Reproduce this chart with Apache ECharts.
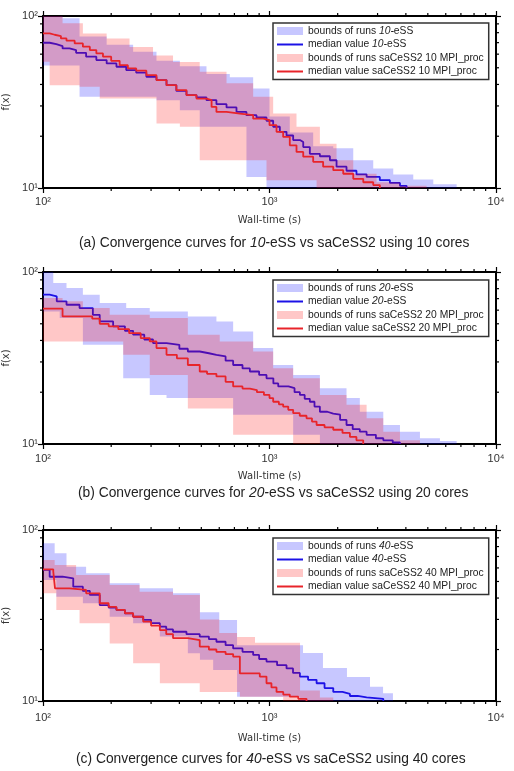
<!DOCTYPE html>
<html>
<head>
<meta charset="utf-8">
<title>Convergence curves</title>
<script src="https://cdn.jsdelivr.net/npm/echarts@6/dist/echarts.min.js"></script>
<style>
  html, body { margin: 0; padding: 0; background: #fff; }
  #chart { width: 514px; height: 771px; }
</style>
</head>
<body>
<div id="chart"></div>
<script type="text/javascript">
// axis ticks
var xMajorTicks = [100, 1000, 10000];
var xTickLabels = ['10²', '10³', '10⁴'];
var yMajorTicks = [10, 100];
var yTickLabels = ['10¹', '10²'];
var xMinorTicks = [200, 300, 400, 500, 600, 700, 800, 900, 2000, 3000, 4000, 5000, 6000, 7000, 8000, 9000];
var yMinorTicks = [20, 30, 40, 50, 60, 70, 80, 90];

var coreCounts = [10, 20, 40];
var panelLetters = ['a', 'b', 'c'];

// (a) 10 cores  -- [wall-time, f(x)], value holds until next point
var aBlueMedian = [[100,69.9],[107,68.7],[114.5,66.9],[122,64.8],[131,63.4],[140,61.1],[155,58.0],[172,55.4],[191,53.0],[211,50.7],[233,48.5],[258,46.8],[286,44.3],[317,42.4],[351,39.6],[388,36.7],[430,34.7],[476,33.6],[527,32.4],[583,30.7],[646,29.4],[715,27.7],[791,26.5],[876,25.7],[970,24.6],[1038,22.7],[1111,21.2],[1189,20.2],[1272,19.0],[1362,18.5],[1409,17.3],[1507,15.8],[1669,15.3],[1848,14.5],[1977,13.3],[2188,12.6],[2421,12.0],[2684,11.6],[3070,11.1],[3400,10.7],[3767,10.3],[4030,10]];
var aRedMedian = [[100,79.3],[107,77.8],[112.6,76.5],[120,74.1],[127,71.9],[138,69.3],[150,66.3],[161,63.4],[172,60.6],[184,58.0],[200,54.9],[218,51.8],[237,49.6],[258,48.1],[286,45.3],[317,42.4],[351,39.6],[388,37.1],[430,34.7],[476,33.1],[527,32.4],[555,29.6],[583,27.7],[646,27.1],[740,26.5],[847,25.3],[938,24.8],[1000,23.2],[1074,21.2],[1149,19.8],[1229,17.7],[1316,16.2],[1409,15.2],[1559,14.2],[1725,13.3],[1912,12.7],[2116,12.1],[2343,11.3],[2594,10.8],[2871,10.4],[3070,10]];
var aBlueUpper = [[100,100],[122,97],[145,76],[191,68],[250,62],[317,55],[402,51],[527,46],[668,44],[847,37.9],[1000,26],[1229,21],[1559,17.5],[1912,17],[2343,14.5],[2871,13],[3519,12],[4313,11.2],[5286,10.5],[6703,10]];
var aBlueLower = [[100,51.5],[145,33.9],[317,32.4],[402,28.3],[492,22.7],[791,11.6],[970,10]];
var aPinkUpper = [[100,100],[122,90.6],[150,79],[191,74],[241,66],[306,59],[375,54],[492,47.4],[646,40.6],[847,33.9],[1038,27.1],[1316,22.7],[1669,18.1],[1977,14.5],[2343,12.1],[2970,10.8],[3767,10.3],[4939,10]];
var aPinkLower = [[100,54.2],[107,39.6],[145,38.8],[178,33.1],[317,23.7],[402,22.7],[492,14.5],[970,11.1],[1614,10]];

// (b) 20 cores
var bBlueMedian = [[100,73.8],[107,72.1],[115,67.5],[127,64.5],[145,61.7],[166,56.4],[178,51.6],[204,48.3],[230,45.5],[250,43.2],[280,40.5],[306,38.6],[351,37.7],[400,35.8],[436,34.5],[492,33.7],[540,33.0],[583,32.3],[640,30.5],[691,28.8],[760,27.5],[819,26.4],[900,25.2],[970,24.1],[1040,22.5],[1093,21.6],[1213,21.1],[1290,20.0],[1362,19.3],[1430,18.3],[1507,17.6],[1580,16.5],[1669,15.4],[1800,15.0],[1912,14.8],[2050,13.8],[2188,12.9],[2330,12.2],[2505,11.8],[2684,11.3],[2950,10.8],[3180,10.5],[3500,10.2],[3767,10]];
var bRedMedian = [[100,61.2],[122,55.2],[165,53.5],[178,50.0],[195,48.3],[215,46.5],[240,44.1],[270,41.3],[296,39.5],[317,36.1],[351,33.0],[390,31.5],[436,28.8],[492,26.4],[530,25.6],[583,24.7],[640,23.0],[691,21.6],[760,21.0],[819,20.6],[880,20.0],[945,19.3],[1000,18.5],[1038,17.6],[1100,17.0],[1149,16.5],[1210,15.8],[1272,15.1],[1360,14.6],[1457,14.1],[1540,13.5],[1614,12.9],[1750,12.5],[1912,12.1],[2100,11.6],[2265,11.0],[2420,10.5],[2593,10]];
var bBlueUpper = [[100,100],[111,86.3],[127,80.7],[150,73.8],[178,66.0],[233,61.7],[296,59.0],[436,55.2],[583,51.6],[691,45.1],[847,36.1],[1038,28.8],[1272,25.2],[1669,21.1],[2188,18.5],[2505,15.4],[3180,12.9],[3767,11.8],[4616,10.8],[5656,10.4],[6703,10]];
var bBlueLower = [[100,59.0],[118.5,54.0],[150,37.7],[226,24.1],[296,19.3],[351,18.5],[691,14.8],[1272,11.3],[1669,10]];
var bPinkUpper = [[100,70.5],[122,67.5],[150,61.7],[197,56.4],[296,54.0],[436,43.2],[603,39.5],[847,34.5],[1038,27.6],[1272,24.1],[1669,19.3],[2188,16.9],[2684,14.1],[3180,11.8],[3767,10.5],[4616,10]];
var bPinkLower = [[100,39.5],[226,33.0],[296,25.2],[436,16.1],[691,11.3],[1272,10]];

// (c) 40 cores
var cBlueMedian = [[100,58.4],[107,53.3],[122,52.2],[136,46.6],[150,44.0],[161,41.7],[178,36.4],[195,35.2],[211,34.1],[230,32.5],[250,31.1],[277,29.8],[300,28.5],[328,27.2],[350,26.2],[375,25.4],[430,24.6],[492,23.8],[540,23.0],[583,22.2],[640,21.2],[691,20.3],[760,19.4],[847,18.6],[900,17.6],[970,17.0],[1080,16.2],[1189,15.5],[1270,14.6],[1362,13.9],[1480,13.3],[1614,12.7],[1750,11.9],[1912,11.3],[2100,11.0],[2265,10.7],[2450,10.5],[2684,10.3],[3180,10]];
var cRedMedian = [[100,58.9],[111,57.1],[113,45.6],[131,44.6],[155,42.6],[178,37.3],[195,35.5],[211,34.1],[230,32.6],[250,31.1],[277,29.1],[300,27.6],[328,26.0],[350,24.6],[375,23.3],[436,22.7],[492,20.8],[540,20.0],[583,19.4],[640,18.8],[691,18.2],[740,14.5],[906,13.9],[970,12.7],[1020,12.0],[1074,11.3],[1150,10.9],[1229,10.6],[1340,10.3],[1457,10]];
var cBlueUpper = [[100,83.6],[112.6,73.1],[127,61.0],[155,55.8],[197,48.8],[267,45.6],[375,42.6],[493,33],[600,29.8],[719,21.2],[1406,19.1],[1722,15.6],[2198,13.8],[2778,12.1],[3172,11.1],[3508,10]];
var cBlueLower = [[100,51.0],[114.5,40.7],[150,37.3],[197,31.1],[250,28.5],[328,23.8],[436,19.0],[493,17.4],[564,15.2],[719,10.6],[1364,10]];
var cPinkUpper = [[100,66.8],[112.6,62.4],[140,54.6],[197,47.7],[267,43.6],[375,41.7],[493,30],[600,25.0],[719,23.7],[863,21.9],[1364,11.5],[1669,10.5],[1912,10]];
var cPinkLower = [[100,42.6],[114.5,34.1],[145,28.5],[197,21.7],[250,16.6],[328,12.7],[492,11.3],[740,10.6],[1149,10]];

var panels = [
    {blueMed: aBlueMedian, redMed: aRedMedian, blueUp: aBlueUpper, blueLo: aBlueLower, pinkUp: aPinkUpper, pinkLo: aPinkLower},
    {blueMed: bBlueMedian, redMed: bRedMedian, blueUp: bBlueUpper, blueLo: bBlueLower, pinkUp: bPinkUpper, pinkLo: bPinkLower},
    {blueMed: cBlueMedian, redMed: cRedMedian, blueUp: cBlueUpper, blueLo: cBlueLower, pinkUp: cPinkUpper, pinkLo: cPinkLower}
];

// layout
var gridTops = [16, 272, 530];
var gridHeights = [172, 172, 171];
var legendTops = [23, 280, 538];
var captionTops = [236, 486, 752];
var captionLefts = [79, 78, 76];
var xNameGaps = [27, 27, 32];
var xLabelMargins = [8, 9, 11];

var bandBlue = 'rgba(0,0,255,0.22)';
var bandPink = 'rgba(255,0,0,0.22)';
var lineBlue = '#1c12e6';
var lineRed = '#e8242a';

function tickLabel(ticks, labels) {
    return function (v) {
        for (var i = 0; i < ticks.length; i++) {
            if (Math.abs(Math.log10(v) - Math.log10(ticks[i])) < 0.01) return labels[i];
        }
        return '';
    };
}

// step outline: value holds from x_i to x_(i+1)
function stepPath(arr, xEnd) {
    var out = [];
    for (var i = 0; i < arr.length; i++) {
        var x1 = i < arr.length - 1 ? arr[i + 1][0] : xEnd;
        out.push([arr[i][0], arr[i][1]]);
        out.push([x1, arr[i][1]]);
    }
    return out;
}

function bandSeries(name, upper, lower, color, g, z) {
    return {
        name: name, type: 'custom', xAxisIndex: 2 * g, yAxisIndex: 2 * g,
        clip: true, silent: true, z: z,
        itemStyle: {color: color},
        data: [[upper[0][0], upper[0][1]]],
        renderItem: function (params, api) {
            var xEnd = upper[upper.length - 1][0];
            var pts = stepPath(upper, xEnd).concat(stepPath(lower, xEnd).reverse());
            return {
                type: 'polygon',
                shape: {points: pts.map(function (p) { return api.coord(p); })},
                style: {fill: color}
            };
        }
    };
}

function medianSeries(name, data, color, g, z) {
    return {
        name: name, type: 'line', step: 'end', xAxisIndex: 2 * g, yAxisIndex: 2 * g,
        data: data, symbol: 'none', showSymbol: false, silent: true, z: z,
        clip: true, animation: false,
        lineStyle: {color: color, width: 1.8},
        itemStyle: {color: color}
    };
}

// minor ticks on all four sides, pointing outward
function minorTickSeries(g) {
    var data = xMinorTicks.map(function (v) { return [v, 10, 0]; })
        .concat(yMinorTicks.map(function (v) { return [100, v, 1]; }));
    return {
        type: 'custom', xAxisIndex: 2 * g, yAxisIndex: 2 * g, silent: true, z: 10,
        data: data,
        renderItem: function (params, api) {
            var v0 = api.value(0), v1 = api.value(1), kind = api.value(2);
            var st = {stroke: '#000', lineWidth: 1.2};
            var a, b;
            if (kind === 0) {
                a = api.coord([v0, 10]); b = api.coord([v0, 100]);
                return {type: 'group', children: [
                    {type: 'line', shape: {x1: a[0], y1: a[1], x2: a[0], y2: a[1] + 3}, style: st},
                    {type: 'line', shape: {x1: b[0], y1: b[1], x2: b[0], y2: b[1] - 3}, style: st}
                ]};
            }
            a = api.coord([100, v1]); b = api.coord([10000, v1]);
            return {type: 'group', children: [
                {type: 'line', shape: {x1: a[0], y1: a[1], x2: a[0] - 3, y2: a[1]}, style: st},
                {type: 'line', shape: {x1: b[0], y1: b[1], x2: b[0] + 3, y2: b[1]}, style: st}
            ]};
        }
    };
}

function italicNum(name) {
    return name.replace(/(\d+-)eSS/, '{i|$1}eSS');
}

var grids = [], xAxes = [], yAxes = [], legends = [], titles = [], series = [];
var axisLineStyle = {show: true, lineStyle: {color: '#000', width: 2}};
var majorTick = {show: true, inside: false, length: 5, lineStyle: {color: '#000', width: 1.2}};
var noSymbol = {color: 'rgba(0,0,0,0)', opacity: 0, borderWidth: 0};

panels.forEach(function (p, g) {
    var n = coreCounts[g];
    var names = [
        'bounds of runs ' + n + '-eSS',
        'median value ' + n + '-eSS',
        'bounds of runs saCeSS2 ' + n + ' MPI_proc',
        'median value saCeSS2 ' + n + ' MPI_proc'
    ];
    grids.push({left: 43, top: gridTops[g], width: 453, height: gridHeights[g], outerBoundsMode: 'none', containLabel: false});

    xAxes.push({
        type: 'log', logBase: 10, gridIndex: g, position: 'bottom', min: 100, max: 10000,
        axisLine: axisLineStyle, axisTick: majorTick, splitLine: {show: false},
        axisLabel: {formatter: tickLabel(xMajorTicks, xTickLabels), margin: xLabelMargins[g], fontSize: 11,
            color: '#333', fontFamily: 'Liberation Sans', showMinLabel: true, showMaxLabel: true},
        name: 'Wall-time (s)', nameLocation: 'middle', nameGap: xNameGaps[g],
        nameTextStyle: {fontSize: 10, color: '#333', fontFamily: 'DejaVu Sans'}
    });
    xAxes.push({
        type: 'log', logBase: 10, gridIndex: g, position: 'top', min: 100, max: 10000,
        axisLine: axisLineStyle, axisTick: majorTick, splitLine: {show: false}, axisLabel: {show: false}
    });
    yAxes.push({
        type: 'log', logBase: 10, gridIndex: g, position: 'left', min: 10, max: 100,
        axisLine: axisLineStyle, axisTick: majorTick, splitLine: {show: false},
        axisLabel: {formatter: tickLabel(yMajorTicks, yTickLabels), margin: 5, fontSize: 11,
            color: '#333', fontFamily: 'Liberation Sans', showMinLabel: true, showMaxLabel: true},
        name: 'f(x)', nameLocation: 'middle', nameGap: 22, nameRotate: 90,
        nameTextStyle: {fontSize: 10, color: '#333', fontFamily: 'DejaVu Sans'}
    });
    yAxes.push({
        type: 'log', logBase: 10, gridIndex: g, position: 'right', min: 10, max: 100,
        axisLine: axisLineStyle, axisTick: majorTick, splitLine: {show: false}, axisLabel: {show: false}
    });

    series.push(bandSeries(names[0], p.blueUp, p.blueLo, bandBlue, g, 1));
    series.push(medianSeries(names[1], p.blueMed, lineBlue, g, 2));
    series.push(bandSeries(names[2], p.pinkUp, p.pinkLo, bandPink, g, 3));
    series.push(medianSeries(names[3], p.redMed, lineRed, g, 4));
    series.push(minorTickSeries(g));

    legends.push({
        left: 273, top: legendTops[g], orient: 'vertical', selectedMode: false,
        backgroundColor: '#fff', borderColor: '#333', borderWidth: 1.5,
        padding: [3, 5, 3, 3], itemGap: 3.5, itemWidth: 26, itemHeight: 8,
        data: [
            {name: names[0], icon: 'rect', itemStyle: {color: bandBlue}},
            {name: names[1], itemStyle: noSymbol},
            {name: names[2], icon: 'rect', itemStyle: {color: bandPink}},
            {name: names[3], itemStyle: noSymbol}
        ],
        formatter: italicNum,
        textStyle: {fontSize: 10.3, color: '#222', fontFamily: 'Liberation Sans',
            rich: {i: {fontSize: 10.3, fontStyle: 'italic', color: '#222', fontFamily: 'Liberation Sans'}}}
    });

    titles.push({
        text: '(' + panelLetters[g] + ') Convergence curves for {i|' + n + '-}eSS vs saCeSS2 using ' + n + ' cores',
        left: captionLefts[g], top: captionTops[g], padding: 0,
        textStyle: {fontSize: 13.8, fontWeight: 'normal', color: '#222', fontFamily: 'Liberation Sans',
            rich: {i: {fontSize: 13.8, fontStyle: 'italic', color: '#222', fontFamily: 'Liberation Sans'}}}
    });
});

var myChart = echarts.init(document.getElementById('chart'));
myChart.setOption({
    animation: false,
    backgroundColor: '#fff',
    title: titles,
    legend: legends,
    grid: grids,
    xAxis: xAxes,
    yAxis: yAxes,
    series: series
});
</script>
</body>
</html>
